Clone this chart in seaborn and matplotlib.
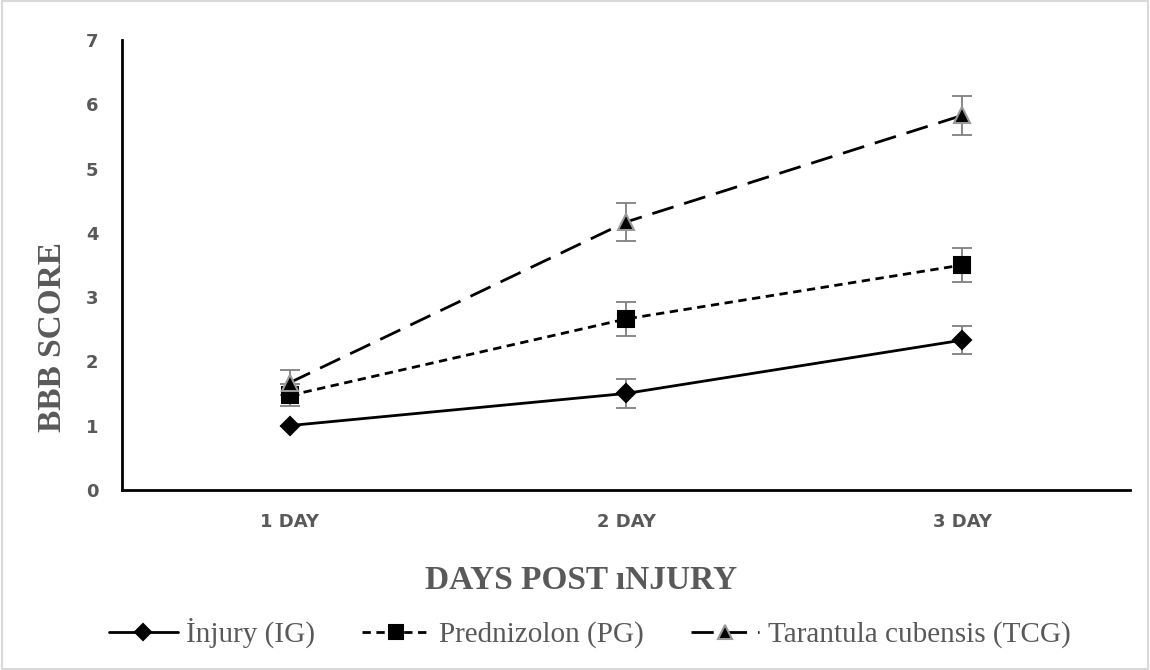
import numpy as np
import pandas as pd
import matplotlib
matplotlib.use("Agg")
import matplotlib.pyplot as plt
import seaborn as sns

# data
days = ["1 DAY", "2 DAY", "3 DAY"]
groups = ["İnjury (IG)", "Prednizolon (PG)", "Tarantula cubensis (TCG)"]
ig_mean = [1.0, 1.5, 2.33]
ig_err = [0.0, 0.22, 0.22]
pg_mean = [1.47, 2.66, 3.5]
pg_err = [0.17, 0.27, 0.27]
tcg_mean = [1.67, 4.17, 5.83]
tcg_err = [0.2, 0.3, 0.3]

sns.set_style("white")
plt.rcParams["font.family"] = ["DejaVu Sans"]

df = pd.DataFrame({
    "day": days * 3,
    "group": [g for g in groups for _ in days],
    "score": ig_mean + pg_mean + tcg_mean,
})

fig = plt.figure(figsize=(11.5, 6.7), dpi=100)
ax = fig.add_axes([0.106, 0.269, 0.877, 0.671])

styles = {
    groups[0]: dict(marker="D", ms=9, mec="black", dashes=None),
    groups[1]: dict(marker="s", ms=12, mec="black", dashes=(3, 2)),
    groups[2]: dict(marker="^", ms=12, mec="#999999", dashes=(8, 4)),
}
errs = {groups[0]: ig_err, groups[1]: pg_err, groups[2]: tcg_err}

xpos = np.arange(len(days))
for g in groups:
    sub = df[df["group"] == g]
    st = styles[g]
    # gray capped error bars
    ax.errorbar(xpos, sub["score"], yerr=errs[g], fmt="none", ecolor="#808080",
                elinewidth=1.3, capsize=7, capthick=1.3, zorder=2)
    sns.lineplot(data=sub, x="day", y="score", ax=ax, color="black", lw=2,
                 marker=st["marker"], markersize=st["ms"], markeredgecolor=st["mec"],
                 markeredgewidth=1.5, label=g, zorder=3)
    line = ax.lines[-1]
    if st["dashes"] is not None:
        line.set_dashes(st["dashes"])

ax.set_xlim(-0.5, 2.5)
ax.set_ylim(0, 7)
ax.set_yticks(range(0, 8))
for s in ["top", "right"]:
    ax.spines[s].set_visible(False)
for s in ["left", "bottom"]:
    ax.spines[s].set_color("black")
    ax.spines[s].set_linewidth(2)
ax.tick_params(axis="both", length=0, labelcolor="#595959", labelsize=13)
ax.tick_params(axis="x", pad=17)
ax.tick_params(axis="y", pad=17)
for lab in ax.get_xticklabels() + ax.get_yticklabels():
    lab.set_fontweight("bold")

ax.set_xlabel("DAYS POST ıNJURY", family=["Liberation Serif"], fontsize=24,
              fontweight="bold", color="#595959")
ax.set_ylabel("BBB SCORE", family=["Liberation Serif"], fontsize=24,
              fontweight="bold", color="#595959")
ax.xaxis.set_label_coords(0.455, -0.168)
ax.yaxis.set_label_coords(-0.053, 0.34)

ax.legend(loc="center", bbox_to_anchor=(0.513, 0.055), bbox_transform=fig.transFigure,
          ncol=3, frameon=False, handlelength=2.35, columnspacing=1.6, handletextpad=0.3,
          markerscale=0.85, prop={"family": "Liberation Serif", "size": 21},
          labelcolor="#595959")

fig.patches.append(plt.Rectangle((0.002, 0.002), 0.996, 0.996, transform=fig.transFigure,
                                 fill=False, edgecolor="#d9d9d9", lw=1.5))

fig.savefig("out.png", dpi=100)
